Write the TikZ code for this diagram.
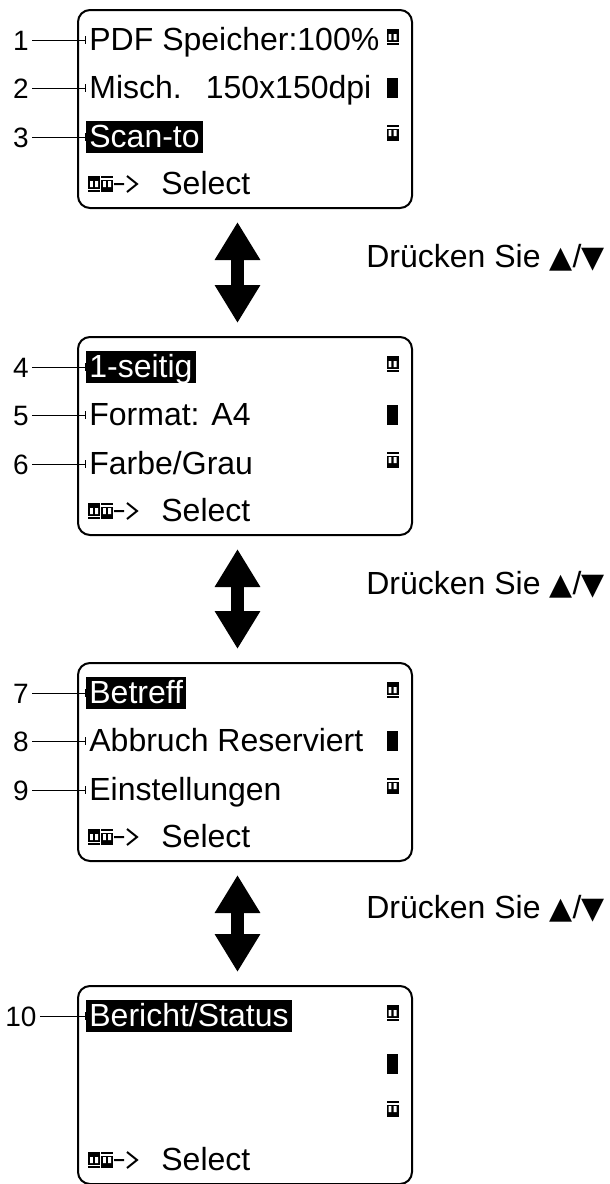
\documentclass[tikz,border=0pt]{standalone}
\usepackage{fontspec}
\setmainfont{Liberation Sans}
\newfontfamily\symbfont{DejaVu Sans}
\usetikzlibrary{arrows.meta}
\usetikzlibrary{positioning}

\newcommand{\keysyms}{{\symbfont\fontsize{15}{18}\selectfont ▲}/{\symbfont\fontsize{15}{18}\selectfont ▼}}

\tikzset{
  panel/.style={draw, line width=1pt, rounded corners=6pt, minimum width=167pt,
    minimum height=99pt, inner sep=0pt, anchor=north west},
  entry/.style={anchor=base west, inner xsep=1.5pt, inner ysep=0pt,
    text height=13pt, text depth=3pt},
  picked/.style={entry, fill=black, text=white},
  num/.style={anchor=base, inner xsep=1.5pt, inner ysep=0pt,
    text height=13pt, text depth=3pt, font=\fontsize{14}{17}\selectfont},
  leader/.style={line width=0.5pt, -{Bar[width=4pt]}},
  updown/.style={line width=6.5pt,
    {Triangle[width=21.5pt,length=19pt]}-{Triangle[width=21.5pt,length=19pt]},
    shorten <=6.5pt, shorten >=6.5pt},
  hint/.style={anchor=base east, inner sep=0pt},
  pics/upkey/.style={code={
    \fill (-6,-8) rectangle (6,4.5);
    \fill[white] (-4,-3) rectangle (-1.2,3) (1.2,-3) rectangle (4,3);
    \fill (-6,5.8) rectangle (6,8.2);
  }},
  pics/downkey/.style={code={
    \fill (-6,-8.2) rectangle (6,-5.8);
    \fill (-6,-4.5) rectangle (6,8);
    \fill[white] (-4,-3) rectangle (-1.2,3) (1.2,-3) rectangle (4,3);
  }},
}

\begin{document}
\begin{tikzpicture}[x=0.5pt, y=-0.5pt, font=\fontsize{16}{19}\selectfont]
  \useasboundingbox (0,0) rectangle (610,1184);
  % display panels, scroll marks and select line
  \foreach \i/\ya in {1/9, 2/336, 3/662, 4/985}{
    \node[panel] (b\i) at (77,\ya) {};
    \pic at (392.5,\ya+28) {upkey};
    \fill (387,\ya+69) rectangle (398,\ya+89);
    \pic at (392.5,\ya+124) {downkey};
    \pic at (94,\ya+175) {upkey};
    \pic at (107,\ya+175) {downkey};
    \draw[line width=1pt] (114,\ya+175) -- (124,\ya+175)
      (127,\ya+167) -- (137,\ya+175) -- (127,\ya+183);
    \node[entry] (s\i) at (158,\ya+185) {Select};
  }
  % menu lines
  \node[entry] (r1) at (86,50) {PDF Speicher:100\%};
  \node[entry] (r2) at (86,98) {Misch.\hspace{0.75em}150x150dpi};
  \node[picked] (r3) at (86,147) {Scan-to};
  \node[picked] (r4) at (86,377) {1-seitig};
  \node[entry] (r5) at (86,425) {Format: A4};
  \node[entry] (r6) at (86,474) {Farbe/Grau};
  \node[picked] (r7) at (86,703) {Betreff};
  \node[entry] (r8) at (86,751) {Abbruch Reserviert};
  \node[entry] (r9) at (86,800) {Einstellungen};
  \node[picked] (r10) at (86,1026) {Bericht/Status};
  % callouts
  \foreach \k/\yb in {1/50, 2/98, 3/147, 4/377, 5/425, 6/474, 7/703, 8/751, 9/800, 10/1026}{
    \node[num] (n\k) at (21,\yb) {\k};
    \draw[leader] (n\k) -- (r\k);
  }
  % key hints
  \node[hint] (h1) at (605,267) {Drücken Sie \keysyms};
  \node[hint] (h2) at (605,594) {Drücken Sie \keysyms};
  \node[hint] (h3) at (605,918) {Drücken Sie \keysyms};
  \draw[updown] ([xshift=-3.75pt]b1.south) -- ([xshift=-3.75pt]b2.north);
  \draw[updown] ([xshift=-3.75pt]b2.south) -- ([xshift=-3.75pt]b3.north);
  \draw[updown] ([xshift=-3.75pt]b3.south) -- ([xshift=-3.75pt]b4.north);
\end{tikzpicture}
\end{document}
